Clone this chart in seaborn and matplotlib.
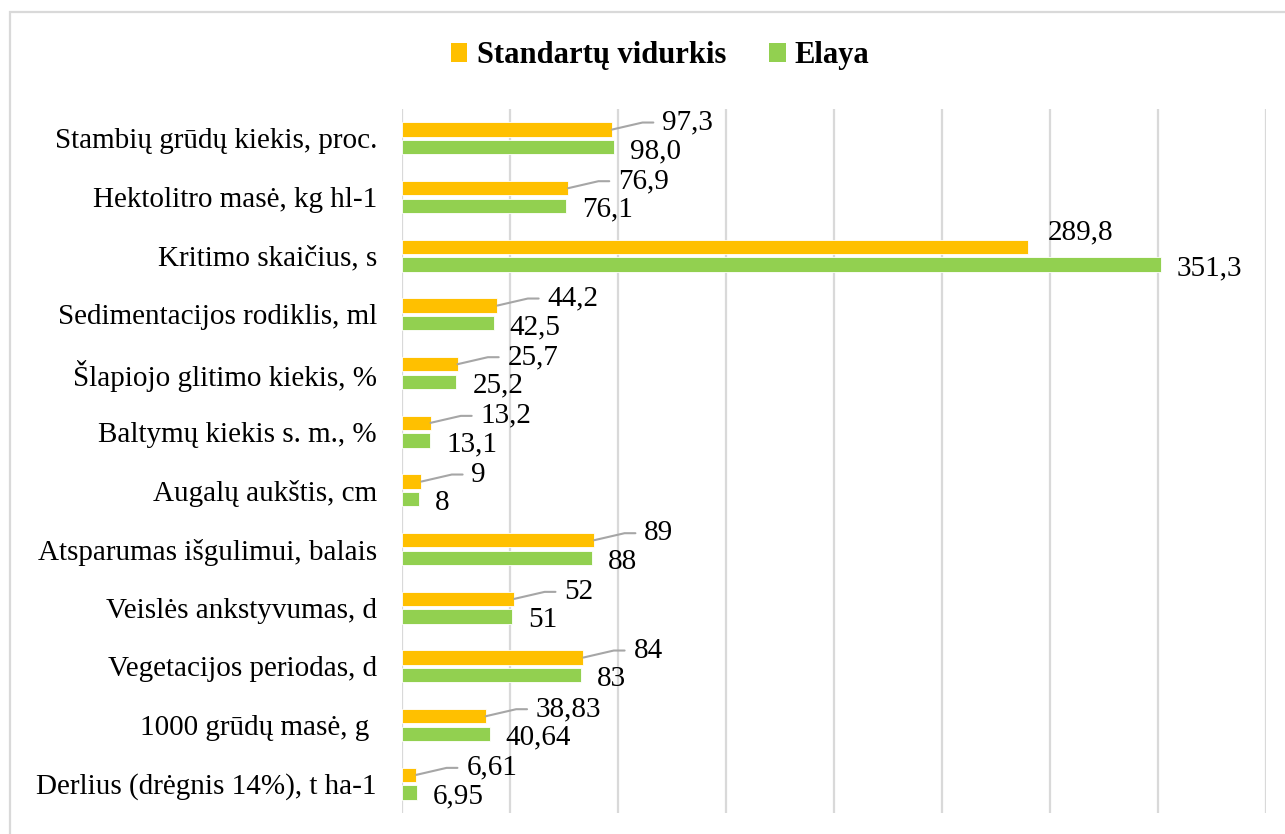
import pandas as pd
import seaborn as sns
import matplotlib.pyplot as plt
from matplotlib.patches import Rectangle, Patch

# === 1. Duomenys ===
rodikliai = [
    "Stambių grūdų kiekis, proc.",
    "Hektolitro masė, kg hl-1",
    "Kritimo skaičius, s",
    "Sedimentacijos rodiklis, ml",
    "Šlapiojo glitimo kiekis, %",
    "Baltymų kiekis s. m., %",
    "Augalų aukštis, cm",
    "Atsparumas išgulimui, balais",
    "Veislės ankstyvumas, d",
    "Vegetacijos periodas, d",
    "1000 grūdų masė, g ",
    "Derlius (drėgnis 14%), t ha-1",
]
standartu_vidurkis = [97.3, 76.9, 289.8, 44.2, 25.7, 13.2, 9, 89, 52, 84, 38.83, 6.61]
elaya = [98.0, 76.1, 351.3, 42.5, 25.2, 13.1, 8, 88, 51, 83, 40.64, 6.95]
standartu_zymos = ["97,3", "76,9", "289,8", "44,2", "25,7", "13,2", "9", "89", "52", "84", "38,83", "6,61"]
elaya_zymos = ["98,0", "76,1", "351,3", "42,5", "25,2", "13,1", "8", "88", "51", "83", "40,64", "6,95"]
serijos = ["Standartų vidurkis", "Elaya"]
spalvos = ["#FFC000", "#92D050"]

df = pd.DataFrame({
    "rodiklis": rodikliai * 2,
    "reiksme": standartu_vidurkis + elaya,
    "serija": [serijos[0]] * len(rodikliai) + [serijos[1]] * len(rodikliai),
})

# === 2. Stilius ===
sns.set_style("white", {"text.color": "black", "axes.labelcolor": "black",
                        "xtick.color": "black", "ytick.color": "black"})
plt.rcParams["font.family"] = ["Liberation Serif", "DejaVu Serif"]

fig = plt.figure(figsize=(12.85, 8.34), dpi=100)
ax = fig.add_axes([402 / 1285, 1 - 813 / 834, 864 / 1285, 704 / 834])

sns.barplot(data=df, y="rodiklis", x="reiksme", hue="serija", orient="h",
            palette=spalvos, saturation=1, width=0.6, gap=0.2, legend=False, ax=ax,
            edgecolor="white", linewidth=0.6)

ax.set_xlim(0, 400)
ax.set_xticks(range(0, 401, 50))
ax.set_xticklabels([])
ax.grid(axis="x", color="#D9D9D9", linewidth=1.6)
ax.set_axisbelow(True)
ax.tick_params(axis="both", length=0)
ax.tick_params(axis="y", labelsize=21, pad=18, labelcolor="black")
ax.set_xlabel("")
ax.set_ylabel("")
for s in ax.spines.values():
    s.set_visible(False)

# === 3. Reikšmių žymos ===
for i, bar in enumerate(ax.containers[0]):
    x_end = bar.get_width()
    y_mid = bar.get_y() + bar.get_height() / 2
    if i == 2:
        ax.annotate(standartu_zymos[i], (x_end, y_mid), xytext=(20, 14),
                    textcoords="offset pixels", fontsize=21, ha="left", va="center",
                    color="black")
    else:
        ax.annotate(standartu_zymos[i], (x_end, y_mid), xytext=(50, 7),
                    textcoords="offset pixels", fontsize=21, ha="left", va="center",
                    color="black",
                    arrowprops=dict(arrowstyle="-", color="#A6A6A6", lw=1.5,
                                    connectionstyle="angle,angleA=0,angleB=13,rad=0",
                                    relpos=(0, 0.5), shrinkA=4, shrinkB=0))

for i, bar in enumerate(ax.containers[1]):
    x_end = bar.get_width()
    y_mid = bar.get_y() + bar.get_height() / 2
    ax.annotate(elaya_zymos[i], (x_end, y_mid), xytext=(16, -4),
                textcoords="offset pixels", fontsize=21, ha="left", va="center",
                color="black")

# === 4. Legenda ir rėmelis ===
rankenos = [Patch(facecolor=c, edgecolor="none") for c in spalvos]
fig.legend(rankenos, serijos, loc="center", bbox_to_anchor=(660 / 1285, 1 - 56 / 834),
           ncol=2, frameon=False, handlelength=0.55, handleheight=0.6,
           handletextpad=0.3, columnspacing=1.4, labelcolor="black",
           prop={"weight": "bold", "size": 22})

fig.patches.append(Rectangle((10 / 1285, -0.05), 1.1, 1.05 - 12 / 834,
                             transform=fig.transFigure, fill=False,
                             edgecolor="#D9D9D9", linewidth=1.6))

plt.savefig("out.png", dpi=100)
